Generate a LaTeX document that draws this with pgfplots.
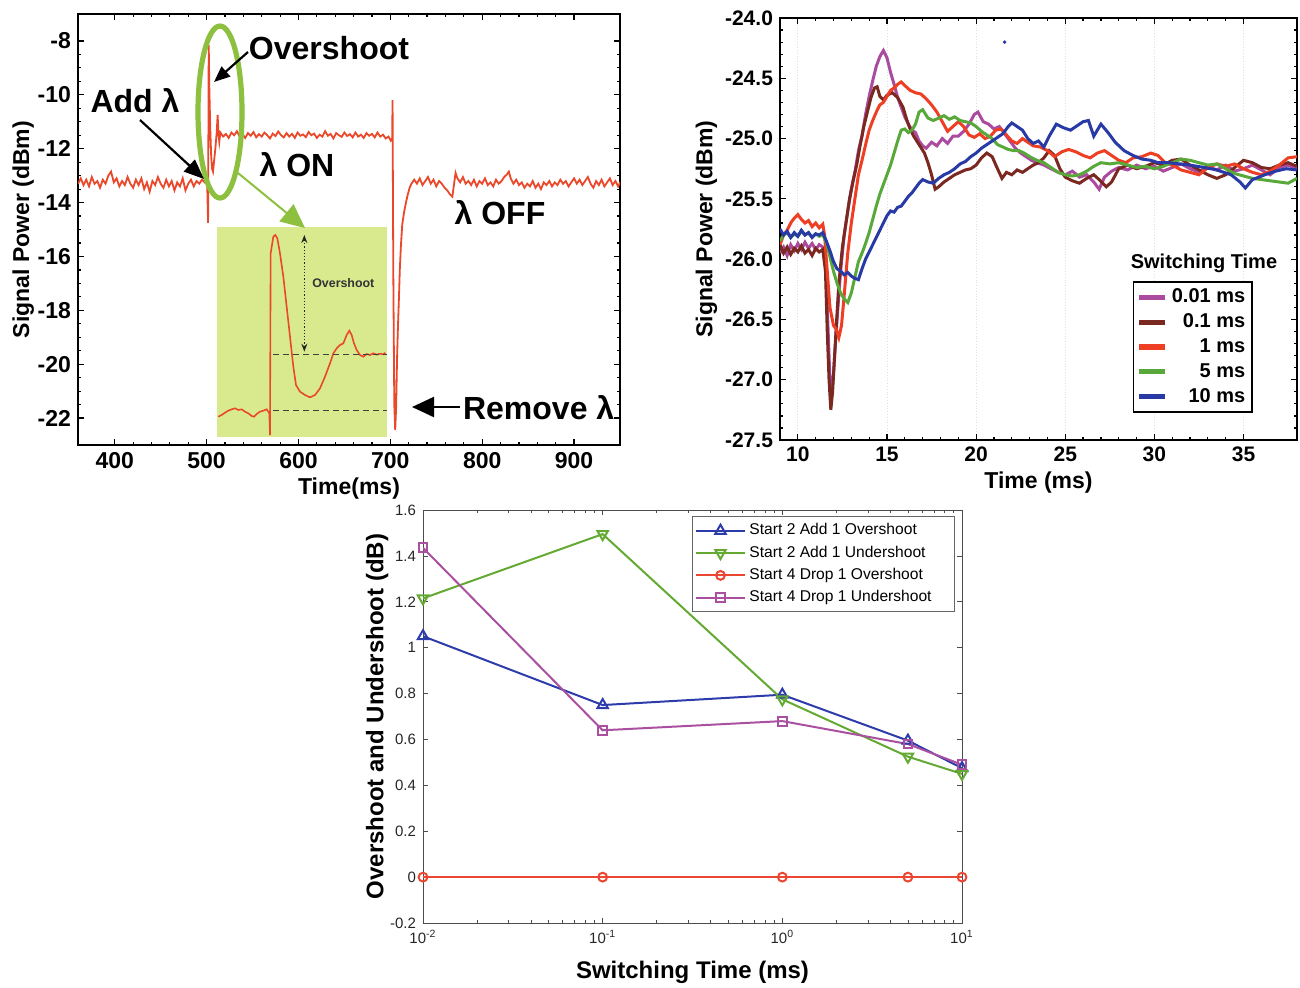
\documentclass[border=0pt]{standalone}
\usepackage{fontspec}
\setmainfont{Liberation Sans}
\usepackage{pgfplots}
\pgfplotsset{compat=1.18}
\usetikzlibrary{arrows.meta}

\definecolor{trace}{RGB}{234,72,42}
\definecolor{cMag}{RGB}{170,75,160}
\definecolor{cBrn}{RGB}{122,40,32}
\definecolor{cRed}{RGB}{238,62,35}
\definecolor{cGrn}{RGB}{88,168,58}
\definecolor{cBlu}{RGB}{40,58,165}
\definecolor{ellg}{RGB}{140,192,62}
\definecolor{insetbg}{RGB}{216,233,142}
\definecolor{bBlu}{RGB}{45,60,170}
\definecolor{bGrn}{RGB}{100,170,50}
\definecolor{bRed}{RGB}{235,70,50}
\definecolor{bMag}{RGB}{170,80,160}

\newcommand\bigbf{\bfseries\fontsize{11.5}{13}\selectfont}
\newcommand\pad{\rule{8pt}{0pt}}

\begin{document}
\begin{tikzpicture}
\path[use as bounding box] (0,0) rectangle (650pt,-493.5pt);

% ---------------- top left: add / remove a wavelength
\begin{axis}[
  at={(39pt,-222.5pt)}, anchor=south west,
  scale only axis, width=271pt, height=215.5pt,
  xmin=360, xmax=950, ymin=-23, ymax=-7,
  xtick={400,500,...,900}, ytick={-22,-20,...,-8},
  minor x tick num=4, minor y tick num=3,
  major tick length=3pt, minor tick length=1.5pt,
  /pgf/number format/assume math mode=true,
  tick label style={font=\bigbf},
  label style={font=\bigbf},
  xlabel={Time(ms)}, ylabel={Signal Power (dBm)},
  xlabel style={yshift=2pt}, ylabel style={yshift=-5pt},
  axis line style={line width=0.7pt},
  every tick/.style={black, line width=0.6pt},
]
\addplot[trace, line width=0.9pt] coordinates {
(360,-13.30) (363,-13.10) (366,-13.35) (369,-13.15) (372,-13.40) (375,-13.05)
(378,-13.30) (381,-13.20) (384,-13.45) (387,-13.15) (390,-13.30) (393,-13.00)
(396,-12.85) (399,-13.25) (402,-13.10) (405,-13.40) (408,-13.20) (411,-13.35)
(414,-13.05) (417,-13.30) (420,-13.45) (423,-13.15) (426,-13.35) (429,-13.10)
(432,-13.50) (435,-13.25) (438,-13.60) (441,-13.20) (444,-13.35) (447,-13.05)
(450,-13.30) (453,-13.45) (456,-13.15) (459,-13.40) (462,-13.20) (465,-13.55)
(468,-13.25) (471,-13.40) (474,-13.10) (477,-13.55) (480,-13.30) (483,-13.15)
(486,-13.40) (489,-13.20) (492,-13.30) (495,-13.15) (498,-13.25)
(500.5,-13.10) (501.6,-14.75) (502.3,-8.15) (503.0,-9.8) (504.0,-11.3)
(505.0,-12.3) (506.0,-12.75) (507.0,-12.85) (508.0,-12.5) (509.5,-12.0)
(511.0,-11.4) (512.0,-10.75) (513.0,-11.5) (513.8,-11.75)
(515,-11.40) (518,-11.55) (521,-11.45) (524,-11.60) (527,-11.40) (530,-11.50)
(533,-11.35) (536,-11.55) (539,-11.45) (542,-11.60) (545,-11.42) (548,-11.52)
(551,-11.38) (554,-11.58) (557,-11.46) (560,-11.55) (563,-11.40) (566,-11.50)
(569,-11.62) (572,-11.44) (575,-11.53) (578,-11.36) (581,-11.50) (584,-11.58)
(587,-11.42) (590,-11.55) (593,-11.45) (596,-11.60) (599,-11.40) (602,-11.52)
(605,-11.47) (608,-11.57) (611,-11.38) (614,-11.50) (617,-11.44) (620,-11.60)
(623,-11.48) (626,-11.55) (629,-11.35) (632,-11.52) (635,-11.45) (638,-11.62)
(641,-11.42) (644,-11.50) (647,-11.56) (650,-11.40) (653,-11.53) (656,-11.46)
(659,-11.58) (662,-11.40) (665,-11.55) (668,-11.48) (671,-11.60) (674,-11.42)
(677,-11.52) (680,-11.45) (683,-11.58) (686,-11.40) (689,-11.55) (692,-11.48)
(695,-11.62) (698,-11.55) (700.5,-11.70) (702,-11.6) (702.4,-10.2)
(703.2,-16.5) (704.3,-21.5) (705.3,-22.45) (706.3,-21.6) (707.3,-19.8)
(708.3,-18.6) (709.3,-17.6) (710.3,-16.5) (711.5,-15.6) (713,-14.8)
(715,-14.35) (717,-14.0) (719,-13.7) (721,-13.45) (723,-13.3)
(726,-13.15) (729,-13.30) (732,-13.10) (735,-13.35) (738,-13.20) (741,-13.05)
(744,-13.30) (747,-13.15) (750,-13.40) (753,-13.20) (756,-13.30) (759,-13.45)
(762,-13.55) (765,-13.70) (767.5,-13.78) (769,-13.40) (771,-12.90) (773,-13.10)
(776,-13.25) (779,-13.05) (782,-13.30) (785,-13.20) (788,-13.35) (791,-13.15)
(794,-13.40) (797,-13.20) (800,-13.30) (803,-13.10) (806,-13.35) (809,-13.25)
(812,-13.40) (815,-13.15) (818,-13.30) (821,-13.20) (824,-13.05) (827,-12.95)
(829,-12.85) (831,-13.10) (834,-13.30) (837,-13.15) (840,-13.35) (843,-13.25)
(846,-13.45) (849,-13.30) (852,-13.40) (855,-13.20) (858,-13.45) (861,-13.30)
(864,-13.50) (867,-13.25) (870,-13.35) (873,-13.20) (876,-13.40) (879,-13.25)
(882,-13.35) (885,-13.15) (888,-13.30) (891,-13.20) (894,-13.40) (897,-13.25)
(900,-13.10) (903,-13.30) (906,-13.15) (909,-13.35) (912,-13.20) (915,-13.05)
(918,-13.30) (921,-13.45) (924,-13.20) (927,-13.35) (930,-13.15) (933,-13.40)
(936,-13.25) (939,-13.10) (942,-13.35) (945,-13.20) (948,-13.40) (950,-13.25)
};
\end{axis}

% ---------------- inset (zoom on the overshoot)
\begin{axis}[
  at={(150.83pt,-165.83pt)}, anchor=center,
  scale only axis, width=85pt, height=105pt,
  xmin=50, xmax=560, ymin=-650, ymax=-20,
  axis line style={draw=none}, ticks=none,
  axis background/.style={fill=insetbg},
  clip=false,
]
\addplot[trace, line width=0.8pt] coordinates {
(55,-590) (65,-585) (75,-578) (85,-572) (95,-568) (105,-565) (115,-570)
(125,-568) (135,-575) (145,-580) (155,-588) (162,-590) (170,-582) (180,-575)
(190,-572) (200,-568) (205,-575) (208,-580) (210,-645) (212,-100) (220,-50)
(226,-45) (232,-55) (240,-100) (250,-170) (260,-260) (270,-350) (280,-440)
(288,-495) (300,-515) (315,-525) (330,-532) (345,-525) (360,-505) (375,-470)
(390,-430) (400,-400) (410,-385) (420,-375) (430,-370) (440,-345) (448,-332)
(455,-345) (462,-370) (470,-390) (480,-405) (490,-410) (500,-402) (510,-405)
(520,-400) (530,-404) (540,-401) (550,-403) (556,-398)
};
\draw[densely dashed, black!75, line width=0.5pt] (axis cs:220,-403) -- (axis cs:560,-403);
\draw[densely dashed, black!75, line width=0.5pt] (axis cs:220,-572) -- (axis cs:560,-572);
\draw[densely dotted, black!85, line width=0.6pt, {Stealth[length=4pt,width=3pt]}-{Stealth[length=4pt,width=3pt]}]
  (axis cs:313,-45) -- (axis cs:313,-395);
\node[font=\bfseries\fontsize{6.2}{7}\selectfont, text=black!80] at (axis cs:430,-190) {Overshoot};
\end{axis}

% ---------------- top right: switching time traces
\begin{axis}[
  at={(390pt,-220pt)}, anchor=south west,
  scale only axis, width=258.5pt, height=211pt,
  xmin=9, xmax=38, ymin=-27.5, ymax=-24,
  xtick={10,15,...,35}, ytick={-27.5,-27,...,-24},
  minor x tick num=4, minor y tick num=4,
  major tick length=3pt, minor tick length=1.5pt,
  xmajorgrids, grid style={densely dotted, black!12},
  /pgf/number format/assume math mode=true,
  yticklabel style={/pgf/number format/.cd, fixed, fixed zerofill, precision=1},
  tick label style={font=\bfseries\fontsize{10.5}{12}\selectfont},
  label style={font=\bigbf},
  xlabel={Time (ms)}, ylabel={Signal Power (dBm)},
  xlabel style={yshift=2pt}, ylabel style={yshift=-3pt},
  axis line style={line width=0.7pt},
  every tick/.style={black, line width=0.6pt},
  legend style={at={(0.915,0.377)}, anchor=north east,
    font=\bfseries\fontsize{10}{12}\selectfont, draw=black, line width=0.8pt,
    inner sep=1.5pt, row sep=0pt},
  legend cell align=right,
  legend image code/.code={\draw[#1, line width=2.6pt] (0pt,0pt) -- (13pt,0pt);},
]
\addplot[cMag, line width=1.5pt] coordinates {
(9.0,-25.95) (9.2,-25.90) (9.4,-25.97) (9.6,-25.88) (9.8,-25.93) (10.0,-25.87)
(10.2,-25.92) (10.4,-25.86) (10.6,-25.91) (10.8,-25.87) (11.0,-25.92) (11.2,-25.88)
(11.4,-25.90) (11.55,-26.0) (11.7,-26.6) (11.8,-27.0) (11.9,-27.1) (12.0,-26.95)
(12.2,-26.5) (12.4,-26.1) (12.6,-25.8) (12.8,-25.6) (13.0,-25.42) (13.2,-25.28)
(13.4,-25.1) (13.6,-24.98) (13.8,-24.8) (14.0,-24.65) (14.2,-24.52) (14.4,-24.40)
(14.6,-24.32) (14.8,-24.27) (15.0,-24.33) (15.2,-24.45) (15.4,-24.55) (15.6,-24.66)
(15.8,-24.74) (16.0,-24.82) (16.2,-24.88) (16.4,-24.93) (16.6,-24.95) (16.8,-25.02)
(17.0,-25.06) (17.2,-25.08) (17.5,-25.03) (17.8,-25.06) (18.1,-25.0) (18.4,-25.04)
(18.7,-24.98) (19.0,-24.98) (19.3,-24.94) (19.6,-24.88) (19.9,-24.8) (20.1,-24.78)
(20.4,-24.86) (20.7,-24.88) (21.0,-24.92) (21.3,-24.9) (21.6,-24.96) (21.9,-25.02)
(22.2,-25.08) (22.5,-25.12) (22.8,-25.15) (23.1,-25.18) (23.4,-25.2) (23.8,-25.22)
(24.2,-25.25) (24.6,-25.28) (25.0,-25.3) (25.4,-25.27) (25.8,-25.32) (26.2,-25.3)
(26.6,-25.36) (26.9,-25.42) (27.2,-25.32) (27.6,-25.27) (28.0,-25.24) (28.5,-25.26)
(29.0,-25.22) (29.5,-25.25) (30.0,-25.23) (30.5,-25.27) (31.0,-25.24) (31.5,-25.21)
(32.0,-25.25) (32.5,-25.28) (33.0,-25.23) (33.5,-25.26) (34.0,-25.22) (34.5,-25.27)
(35.0,-25.25) (35.5,-25.22) (36.0,-25.26) (36.5,-25.3) (37.0,-25.24) (37.5,-25.22)
(38.0,-25.25)
};
\addlegendentry{0.01 ms}
\addplot[cBrn, line width=1.5pt] coordinates {
(9.0,-25.88) (9.2,-25.95) (9.4,-25.90) (9.6,-25.96) (9.8,-25.91) (10.0,-25.94)
(10.2,-25.89) (10.4,-25.95) (10.6,-25.92) (10.8,-25.97) (11.0,-25.91) (11.2,-25.94)
(11.4,-25.92) (11.55,-26.1) (11.65,-26.6) (11.75,-27.0) (11.85,-27.25) (11.95,-27.1)
(12.1,-26.7) (12.3,-26.2) (12.5,-25.9) (12.7,-25.7) (12.9,-25.5) (13.1,-25.35)
(13.3,-25.22) (13.5,-25.05) (13.7,-24.9) (13.9,-24.78) (14.1,-24.66) (14.3,-24.58)
(14.45,-24.57) (14.6,-24.65) (14.8,-24.68) (15.0,-24.64) (15.3,-24.62) (15.6,-24.66)
(15.9,-24.74) (16.1,-24.84) (16.3,-24.92) (16.5,-24.98) (16.8,-25.05) (17.1,-25.12)
(17.3,-25.2) (17.5,-25.3) (17.7,-25.42) (17.9,-25.4) (18.2,-25.36) (18.5,-25.33)
(18.8,-25.3) (19.1,-25.28) (19.4,-25.26) (19.7,-25.25) (20.0,-25.22) (20.3,-25.16)
(20.6,-25.12) (20.9,-25.15) (21.2,-25.25) (21.45,-25.33) (21.7,-25.28) (22.0,-25.3)
(22.3,-25.26) (22.6,-25.28) (22.9,-25.25) (23.2,-25.22) (23.5,-25.2) (23.8,-25.16)
(24.1,-25.1) (24.4,-25.14) (24.7,-25.25) (25.0,-25.32) (25.4,-25.35) (25.8,-25.37)
(26.2,-25.33) (26.6,-25.3) (26.9,-25.34) (27.3,-25.4) (27.6,-25.36) (28.0,-25.25)
(28.5,-25.22) (29.0,-25.25) (29.5,-25.23) (30.0,-25.2) (30.5,-25.22) (31.0,-25.18)
(31.5,-25.17) (32.0,-25.22) (32.5,-25.26) (33.0,-25.3) (33.5,-25.33) (34.0,-25.3)
(34.5,-25.24) (35.0,-25.18) (35.5,-25.2) (36.0,-25.24) (36.5,-25.25) (37.0,-25.22)
(37.5,-25.2) (38.0,-25.23)
};
\addlegendentry{0.1 ms}
\addplot[cRed, line width=1.5pt] coordinates {
(9.0,-25.88) (9.2,-25.8) (9.4,-25.76) (9.6,-25.7) (9.8,-25.66) (10.0,-25.63)
(10.2,-25.67) (10.4,-25.7) (10.6,-25.68) (10.8,-25.73) (11.0,-25.7) (11.2,-25.74)
(11.4,-25.71) (11.5,-25.8) (11.65,-26.1) (11.8,-26.4) (12.0,-26.55) (12.15,-26.58)
(12.3,-26.65) (12.45,-26.55) (12.6,-26.3) (12.8,-25.95) (13.0,-25.7) (13.2,-25.5)
(13.4,-25.3) (13.6,-25.18) (13.8,-25.05) (14.0,-24.93) (14.2,-24.85) (14.4,-24.78)
(14.6,-24.72) (14.8,-24.7) (15.0,-24.65) (15.2,-24.6) (15.4,-24.58) (15.6,-24.55)
(15.8,-24.53) (16.0,-24.56) (16.3,-24.6) (16.6,-24.62) (16.9,-24.63) (17.2,-24.67)
(17.5,-24.72) (17.8,-24.78) (18.1,-24.86) (18.4,-24.94) (18.7,-24.9) (19.0,-24.86)
(19.3,-24.9) (19.6,-24.97) (19.9,-24.99) (20.2,-24.96) (20.5,-25.0) (20.8,-24.98)
(21.1,-24.93) (21.4,-24.92) (21.7,-24.97) (22.0,-25.02) (22.3,-25.04) (22.6,-25.0)
(22.9,-25.03) (23.2,-25.06) (23.6,-25.07) (24.0,-25.1) (24.4,-25.15) (24.8,-25.11)
(25.2,-25.09) (25.6,-25.11) (26.0,-25.14) (26.4,-25.16) (26.8,-25.12) (27.2,-25.1)
(27.6,-25.14) (28.0,-25.18) (28.4,-25.2) (28.8,-25.16) (29.3,-25.15) (29.8,-25.12)
(30.2,-25.14) (30.6,-25.2) (31.0,-25.22) (31.5,-25.26) (32.0,-25.28) (32.5,-25.3)
(33.0,-25.24) (33.5,-25.21) (34.0,-25.23) (34.5,-25.21) (35.0,-25.25) (35.5,-25.28)
(36.0,-25.3) (36.5,-25.27) (37.0,-25.22) (37.5,-25.16) (38.0,-25.15)
};
\addlegendentry{1 ms}
\addplot[cGrn, line width=1.5pt] coordinates {
(9.0,-25.85) (9.2,-25.8) (9.4,-25.78) (9.6,-25.82) (9.8,-25.79) (10.0,-25.81)
(10.2,-25.77) (10.4,-25.8) (10.6,-25.78) (10.8,-25.82) (11.0,-25.79) (11.2,-25.81)
(11.4,-25.8) (11.6,-25.86) (11.8,-25.98) (12.0,-26.1) (12.2,-26.2) (12.4,-26.28)
(12.6,-26.33) (12.8,-26.36) (13.0,-26.28) (13.2,-26.15) (13.4,-26.02) (13.6,-25.95)
(13.8,-25.87) (14.0,-25.78) (14.2,-25.67) (14.4,-25.56) (14.6,-25.46) (14.8,-25.38)
(15.0,-25.3) (15.2,-25.22) (15.4,-25.12) (15.6,-25.02) (15.8,-24.93) (16.0,-24.92)
(16.2,-24.95) (16.4,-24.93) (16.6,-24.88) (16.8,-24.78) (17.0,-24.76) (17.3,-24.83)
(17.6,-24.85) (17.9,-24.83) (18.2,-24.81) (18.5,-24.84) (18.8,-24.82) (19.1,-24.85)
(19.4,-24.86) (19.7,-24.87) (20.0,-24.9) (20.3,-24.94) (20.6,-24.97) (20.9,-25.0)
(21.2,-25.05) (21.5,-25.07) (21.8,-25.09) (22.1,-25.1) (22.4,-25.1) (22.7,-25.12)
(23.0,-25.15) (23.4,-25.18) (23.8,-25.2) (24.2,-25.24) (24.6,-25.28) (25.0,-25.3)
(25.4,-25.31) (25.8,-25.3) (26.2,-25.27) (26.6,-25.23) (27.0,-25.2) (27.5,-25.21)
(28.0,-25.2) (28.5,-25.22) (29.0,-25.24) (29.5,-25.23) (30.0,-25.25) (30.5,-25.23)
(31.0,-25.2) (31.5,-25.17) (32.0,-25.18) (32.5,-25.2) (33.0,-25.22) (33.5,-25.21)
(34.0,-25.25) (34.5,-25.29) (35.0,-25.31) (35.5,-25.33) (36.0,-25.34) (36.5,-25.35)
(37.0,-25.36) (37.5,-25.37) (38.0,-25.33)
};
\addlegendentry{5 ms}
\addplot[cBlu, line width=1.5pt] coordinates {
(9.0,-25.75) (9.2,-25.8) (9.4,-25.77) (9.6,-25.82) (9.8,-25.78) (10.0,-25.81)
(10.2,-25.76) (10.4,-25.8) (10.6,-25.78) (10.8,-25.82) (11.0,-25.79) (11.2,-25.8)
(11.4,-25.78) (11.6,-25.85) (11.8,-25.93) (12.0,-26.02) (12.2,-26.08) (12.4,-26.1)
(12.6,-26.13) (12.8,-26.11) (13.0,-26.14) (13.2,-26.16) (13.4,-26.17) (13.6,-26.08)
(13.8,-26.0) (14.0,-25.94) (14.2,-25.88) (14.4,-25.82) (14.6,-25.76) (14.8,-25.7)
(15.0,-25.64) (15.2,-25.6) (15.4,-25.61) (15.6,-25.57) (15.8,-25.56) (16.0,-25.52)
(16.2,-25.48) (16.4,-25.45) (16.6,-25.41) (16.8,-25.37) (17.0,-25.34) (17.3,-25.36)
(17.6,-25.37) (17.9,-25.33) (18.2,-25.3) (18.5,-25.28) (18.8,-25.25) (19.1,-25.21)
(19.4,-25.19) (19.7,-25.15) (20.0,-25.12) (20.3,-25.08) (20.6,-25.05) (20.9,-25.02)
(21.2,-24.99) (21.5,-24.96) (21.8,-24.9) (22.0,-24.87) (22.3,-24.9) (22.6,-24.93)
(22.9,-25.0) (23.2,-25.04) (23.5,-25.02) (23.8,-25.07) (24.1,-24.98) (24.5,-24.88)
(24.9,-24.91) (25.3,-24.93) (25.7,-24.89) (26.0,-24.86) (26.3,-24.85) (26.6,-24.98)
(27.0,-24.88) (27.4,-24.95) (27.8,-25.03) (28.3,-25.1) (28.8,-25.14) (29.3,-25.17)
(29.8,-25.18) (30.2,-25.2) (30.8,-25.2) (31.4,-25.21) (32.0,-25.22) (32.8,-25.24)
(33.5,-25.26) (34.3,-25.3) (34.8,-25.36) (35.1,-25.41) (35.5,-25.34) (36.2,-25.3)
(36.8,-25.27) (37.4,-25.25) (38.0,-25.26)
};
\addlegendentry{10 ms}
\addplot[cBlu, only marks, mark=*, mark size=0.7pt, forget plot] coordinates {(21.6,-24.2)};
\node[font=\bfseries\fontsize{10}{12}\selectfont] at (rel axis cs:0.82,0.419) {Switching Time};
\end{axis}

% ---------------- bottom: overshoot and undershoot
\begin{axis}[
  at={(211.5pt,-461.5pt)}, anchor=south west,
  scale only axis, width=269.5pt, height=206.5pt,
  xmode=log, xmin=0.01, xmax=10, ymin=-0.2, ymax=1.6,
  xtick={0.01,0.1,1,10},
  xticklabels={10\textsuperscript{-2},10\textsuperscript{-1},10\textsuperscript{0},10\textsuperscript{1}},
  minor xtick={0.02,0.03,0.04,0.05,0.06,0.07,0.08,0.09,0.2,0.3,0.4,0.5,0.6,0.7,0.8,0.9,2,3,4,5,6,7,8,9},
  ytick={-0.2,0,0.2,0.4,0.6,0.8,1,1.2,1.4,1.6},
  yticklabels={-0.2,0,0.2,0.4,0.6,0.8,1,1.2,1.4,1.6},
  major tick length=2.5pt, minor tick length=1.3pt,
  tick label style={font=\fontsize{7.5}{9}\selectfont, text=black!85},
  label style={font=\bfseries\fontsize{12}{14}\selectfont},
  xlabel={Switching Time (ms)}, ylabel={Overshoot and Undershoot (dB)},
  xlabel style={yshift=-2pt}, ylabel style={yshift=-6pt},
  axis line style={line width=0.5pt, black!70},
  every tick/.style={black!70, line width=0.4pt},
  legend style={at={(0.987,0.985)}, anchor=north east,
    font=\fontsize{7.8}{9}\selectfont, draw=black!60, line width=0.4pt,
    inner sep=1.5pt, row sep=0pt},
  legend cell align=left,
  legend image code/.code={\draw[mark repeat=2, mark phase=2, #1]
    plot coordinates {(0pt,0pt) (12pt,0pt) (24pt,0pt)};},
]
\addplot[bBlu, line width=1pt, mark=triangle, mark size=3pt, mark options={solid}] coordinates {
(0.01,1.05) (0.1,0.75) (1,0.795) (5,0.595) (10,0.475)
};
\addlegendentry{Start 2 Add 1 Overshoot\pad}
\addplot[bGrn, line width=1pt, mark=triangle, mark size=3pt, mark options={solid, rotate=180}] coordinates {
(0.01,1.215) (0.1,1.495) (1,0.775) (5,0.525) (10,0.45)
};
\addlegendentry{Start 2 Add 1 Undershoot\pad}
\addplot[bRed, line width=1pt, mark=o, mark size=2.2pt, mark options={solid}] coordinates {
(0.01,0) (0.1,0) (1,0) (5,0) (10,0)
};
\addlegendentry{Start 4 Drop 1 Overshoot\pad}
\addplot[bMag, line width=1pt, mark=square, mark size=2.2pt, mark options={solid}] coordinates {
(0.01,1.435) (0.1,0.64) (1,0.68) (5,0.58) (10,0.49)
};
\addlegendentry{Start 4 Drop 1 Undershoot\pad}
\end{axis}

% ---------------- annotations of the top left panel (image pixel units)
\begin{scope}[x=0.5pt, y=-0.5pt]
\draw[ellg, line width=2.6pt] (220,112) ellipse [x radius=22, y radius=86];
\draw[ellg, line width=1pt, -{Triangle[length=12pt,width=11pt]}] (238,173) -- (305,228);
\draw[black, line width=1.1pt, -{Triangle[length=8pt,width=6.5pt]}] (248,52) -- (214,82);
\draw[black, line width=1.1pt, -{Triangle[length=10pt,width=8pt]}] (140,120) -- (204,179);
\draw[black, line width=1.1pt, -{Triangle[length=11pt,width=10pt]}] (460,407) -- (412,407);
\node[font=\bfseries\fontsize{16}{18}\selectfont] at (329,48) {Overshoot};
\node[font=\bfseries\fontsize{16}{18}\selectfont] at (135,101) {Add λ};
\node[font=\bfseries\fontsize{16}{18}\selectfont] at (297,165) {λ ON};
\node[font=\bfseries\fontsize{16}{18}\selectfont] at (500,213) {λ OFF};
\node[font=\bfseries\fontsize{16}{18}\selectfont, anchor=west] at (456,408) {Remove λ};
\end{scope}
\end{tikzpicture}
\end{document}
